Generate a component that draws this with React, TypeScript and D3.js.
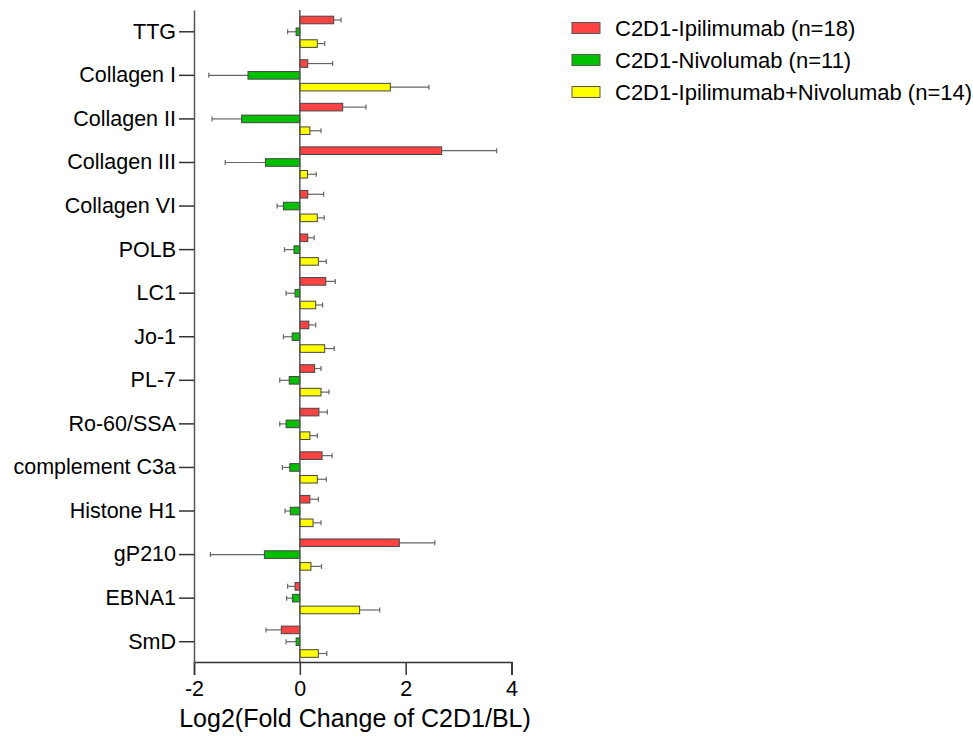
import React, { useRef, useEffect } from "react";
import { select, scaleLinear, scaleBand, axisBottom, axisLeft } from "d3";

const categories = ["TTG", "Collagen I", "Collagen II", "Collagen III", "Collagen VI", "POLB", "LC1", "Jo-1", "PL-7", "Ro-60/SSA", "complement C3a", "Histone H1", "gP210", "EBNA1", "SmD"];
const seriesNames = ["C2D1-Ipilimumab (n=18)", "C2D1-Nivolumab (n=11)", "C2D1-Ipilimumab+Nivolumab (n=14)"];
const seriesColors = ["#ff4343", "#00c000", "#ffff00"];

const ipiMean = [0.64, 0.15, 0.81, 2.68, 0.15, 0.15, 0.49, 0.17, 0.28, 0.36, 0.42, 0.19, 1.88, -0.09, -0.35];
const ipiErr = [0.78, 0.62, 1.25, 3.72, 0.45, 0.27, 0.67, 0.30, 0.40, 0.52, 0.61, 0.35, 2.55, -0.23, -0.64];
const nivoMean = [-0.07, -0.98, -1.10, -0.65, -0.31, -0.11, -0.09, -0.145, -0.20, -0.26, -0.19, -0.18, -0.67, -0.14, -0.07];
const nivoErr = [-0.23, -1.72, -1.66, -1.41, -0.43, -0.29, -0.26, -0.31, -0.38, -0.38, -0.33, -0.28, -1.69, -0.25, -0.26];
const comboMean = [0.33, 1.71, 0.19, 0.145, 0.33, 0.35, 0.30, 0.47, 0.40, 0.19, 0.33, 0.25, 0.21, 1.13, 0.35];
const comboErr = [0.47, 2.44, 0.40, 0.31, 0.46, 0.50, 0.43, 0.65, 0.55, 0.33, 0.50, 0.40, 0.41, 1.51, 0.51];
const xTicks = [-2, 0, 2, 4];

const FONT = "Arial, 'Liberation Sans', sans-serif";

export default function App() {
  const svgRef = useRef<SVGSVGElement>(null);

  useEffect(() => {
    document.body.style.margin = "0";
    const svg = select(svgRef.current);
    svg.selectAll("*").remove();

    const x = scaleLinear().domain([-2, 4]).range([194, 511.5]);
    const y = scaleBand().domain(categories).range([10, 663.5]);
    const slot = 11.8;
    const barH = 7.6;

    const series = [
      { mean: ipiMean, err: ipiErr },
      { mean: nivoMean, err: nivoErr },
      { mean: comboMean, err: comboErr },
    ];

    const g = svg.append("g");

    series.forEach((s, si) => {
      categories.forEach((c, i) => {
        const cy = (y(c) as number) + y.bandwidth() / 2 + (si - 1) * slot;
        const v = s.mean[i];
        const e = s.err[i];
        // one-sided error bar
        g.append("line")
          .attr("x1", x(v)).attr("x2", x(e))
          .attr("y1", cy).attr("y2", cy)
          .attr("stroke", "#666").attr("stroke-width", 1.2);
        g.append("line")
          .attr("x1", x(e)).attr("x2", x(e))
          .attr("y1", cy - 2.5).attr("y2", cy + 2.5)
          .attr("stroke", "#666").attr("stroke-width", 1.2);
        g.append("rect")
          .attr("x", Math.min(x(0), x(v)))
          .attr("y", cy - barH / 2)
          .attr("width", Math.abs(x(v) - x(0)))
          .attr("height", barH)
          .attr("fill", seriesColors[si])
          .attr("stroke", "#444")
          .attr("stroke-width", 1);
      });
    });

    // zero line
    g.append("line")
      .attr("x1", x(0)).attr("x2", x(0))
      .attr("y1", 10).attr("y2", 662)
      .attr("stroke", "#555").attr("stroke-width", 1.5);

    const xAxis = svg.append("g")
      .attr("transform", "translate(0,662)")
      .call(axisBottom(x).tickValues(xTicks).tickSize(13).tickPadding(6).tickFormat((d: any) => String(d)));
    xAxis.select(".domain").attr("stroke", "#333").attr("stroke-width", 1.5);
    xAxis.selectAll(".tick line").attr("stroke", "#333").attr("stroke-width", 1.5);
    xAxis.selectAll("text").attr("font-size", 21.5).attr("font-family", FONT).attr("fill", "#000");

    const yAxis = svg.append("g")
      .attr("transform", "translate(194,0)")
      .call(axisLeft(y).tickSize(15).tickPadding(3).tickSizeOuter(0));
    yAxis.select(".domain").attr("stroke", "#555").attr("stroke-width", 1.5);
    yAxis.selectAll(".tick line").attr("stroke", "#333").attr("stroke-width", 1.5);
    yAxis.selectAll("text").attr("font-size", 21.5).attr("font-family", FONT).attr("fill", "#000");

    svg.append("text")
      .text("Log2(Fold Change of C2D1/BL)")
      .attr("x", 355).attr("y", 727)
      .attr("text-anchor", "middle")
      .attr("font-size", 25)
      .attr("font-family", FONT);

    const legend = svg.append("g").attr("transform", "translate(572,28)");
    seriesNames.forEach((n, i) => {
      const row = legend.append("g").attr("transform", `translate(0,${i * 32})`);
      row.append("rect")
        .attr("x", 0).attr("y", -5.5)
        .attr("width", 28).attr("height", 11)
        .attr("fill", seriesColors[i])
        .attr("stroke", "#555").attr("stroke-width", 1);
      row.append("text")
        .text(n)
        .attr("x", 43).attr("y", 0)
        .attr("dy", "0.35em")
        .attr("font-size", 22)
        .attr("font-family", FONT);
    });
  }, []);

  return (
    <svg ref={svgRef} width={973} height={738} style={{ display: "block", background: "#fff" }}></svg>
  );
}
